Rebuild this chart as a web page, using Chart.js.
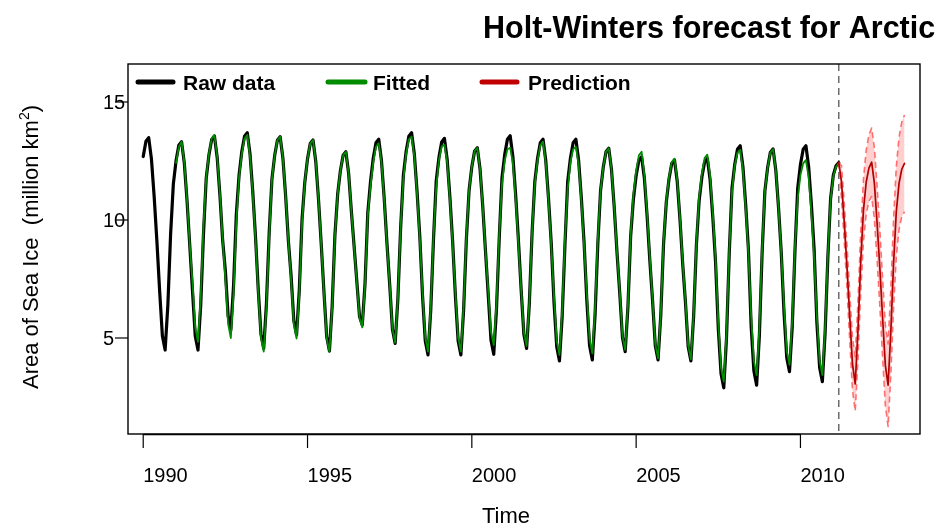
<!DOCTYPE html>
<html>
<head>
<meta charset="utf-8">
<title>Holt-Winters forecast for Arctic</title>
<script src="https://cdn.jsdelivr.net/npm/chart.js@4.4.1/dist/chart.umd.min.js"></script>
<style>
  html, body { margin: 0; padding: 0; background: #fff; }
  canvas { display: block; }
</style>
</head>
<body>
<canvas id="hwChart" width="941" height="527"></canvas>
<script>
// Monthly sea ice area (million km2), Jan 1990 - Mar 2011
const startYear = 1990;
const rawData = [
  12.69, 13.34, 13.49, 12.59, 10.99, 9.09, 6.99, 5.09, 4.49, 6.39, 9.39, 11.52,
  12.52, 13.17, 13.32, 12.42, 10.82, 8.92, 6.99, 5.09, 4.49, 6.39, 9.39, 11.76,
  12.76, 13.41, 13.56, 12.66, 11.06, 9.16, 7.84, 5.94, 5.34, 7.24, 10.24, 11.90,
  12.90, 13.55, 13.70, 12.80, 11.20, 9.30, 7.06, 5.16, 4.56, 6.46, 9.46, 11.73,
  12.73, 13.38, 13.53, 12.63, 11.03, 9.13, 7.63, 5.73, 5.13, 7.03, 10.03, 11.59,
  12.59, 13.24, 13.39, 12.49, 10.89, 8.99, 6.95, 5.05, 4.45, 6.35, 9.35, 11.09,
  12.09, 12.74, 12.89, 11.99, 10.39, 8.90, 7.40, 5.90, 5.55, 7.30, 10.30, 11.62,
  12.62, 13.27, 13.42, 12.52, 10.92, 9.02, 7.27, 5.37, 4.77, 6.67, 9.67, 11.90,
  12.90, 13.55, 13.70, 12.80, 11.20, 9.30, 6.78, 4.88, 4.28, 6.18, 9.18, 11.66,
  12.66, 13.31, 13.46, 12.56, 10.96, 9.06, 6.78, 4.88, 4.28, 6.18, 9.18, 11.26,
  12.26, 12.91, 13.06, 12.16, 10.56, 8.66, 6.81, 4.91, 4.31, 6.21, 9.21, 11.77,
  12.77, 13.42, 13.57, 12.67, 11.07, 9.17, 7.06, 5.16, 4.56, 6.46, 9.46, 11.62,
  12.62, 13.27, 13.42, 12.52, 10.92, 9.02, 6.53, 4.63, 4.03, 5.93, 8.93, 11.62,
  12.62, 13.27, 13.42, 12.52, 10.92, 9.02, 6.57, 4.67, 4.07, 5.97, 8.97, 11.24,
  12.24, 12.89, 13.04, 12.14, 10.54, 8.64, 6.92, 5.02, 4.42, 6.32, 9.32, 10.88,
  11.88, 12.53, 12.68, 11.78, 10.18, 8.28, 6.57, 4.67, 4.07, 5.97, 8.97, 10.74,
  11.74, 12.39, 12.54, 11.64, 10.04, 8.14, 6.53, 4.63, 4.03, 5.93, 8.93, 10.81,
  11.81, 12.46, 12.61, 11.71, 10.11, 8.21, 5.39, 3.49, 2.89, 5.00, 8.60, 11.35,
  12.35, 13.00, 13.15, 12.25, 10.65, 8.75, 5.50, 3.60, 3.00, 5.10, 8.60, 11.21,
  12.21, 12.86, 13.01, 12.11, 10.51, 8.61, 6.07, 4.17, 3.57, 5.47, 8.70, 11.35,
  12.35, 13.00, 13.15, 12.25, 10.65, 8.75, 5.65, 3.75, 3.15, 5.20, 8.40, 10.90,
  11.90, 12.30, 12.43
];

// Holt-Winters fitted values start after the first season (Jan 1991)
const fittedOffset = 12;
const fittedData = [
  12.42, 13.10, 13.32, 12.45, 10.85, 8.95, 7.34, 5.44, 4.84, 6.74, 9.74, 11.80,
  12.80, 13.45, 13.60, 12.70, 11.10, 9.20, 7.50, 5.60, 5.00, 6.90, 9.90, 11.80,
  12.80, 13.45, 13.60, 12.70, 11.10, 9.20, 6.92, 5.02, 4.42, 6.32, 9.32, 11.73,
  12.73, 13.38, 13.53, 12.63, 11.03, 9.13, 7.48, 5.58, 4.98, 6.88, 9.88, 11.59,
  12.59, 13.24, 13.39, 12.49, 10.89, 8.99, 6.90, 5.00, 4.40, 6.30, 9.30, 11.09,
  12.09, 12.74, 12.89, 11.99, 10.39, 8.85, 7.35, 5.85, 5.45, 7.25, 10.20, 11.45,
  12.45, 13.10, 13.25, 12.45, 10.85, 8.95, 7.30, 5.40, 4.80, 6.70, 9.70, 11.73,
  12.80, 13.42, 13.53, 12.70, 11.10, 9.20, 6.92, 5.02, 4.42, 6.32, 9.32, 11.38,
  12.55, 13.12, 13.18, 12.45, 10.85, 8.95, 6.92, 5.02, 4.42, 6.32, 9.32, 11.26,
  12.26, 12.91, 13.06, 12.16, 10.56, 8.66, 7.00, 5.25, 4.70, 6.45, 9.35, 11.50,
  12.50, 13.00, 13.06, 12.40, 10.90, 9.00, 7.10, 5.25, 4.67, 6.50, 9.50, 11.52,
  12.52, 13.17, 13.32, 12.42, 10.82, 8.92, 6.78, 4.88, 4.28, 6.18, 9.18, 11.30,
  12.45, 13.00, 13.10, 12.35, 10.80, 8.90, 6.85, 4.95, 4.35, 6.25, 9.20, 11.24,
  12.24, 12.89, 13.04, 12.14, 10.54, 8.64, 7.00, 5.10, 4.50, 6.40, 9.40, 11.09,
  12.09, 12.74, 12.89, 11.90, 10.30, 8.40, 6.64, 4.74, 4.14, 6.04, 9.04, 10.80,
  11.80, 12.45, 12.60, 11.70, 10.10, 8.20, 6.60, 4.70, 4.10, 6.00, 9.00, 10.97,
  11.97, 12.62, 12.77, 11.87, 10.27, 8.37, 5.65, 3.75, 3.15, 5.20, 8.70, 11.17,
  12.30, 12.85, 12.97, 12.10, 10.50, 8.60, 5.93, 4.03, 3.43, 5.40, 8.80, 11.20,
  12.20, 12.85, 13.00, 12.10, 10.50, 8.60, 6.36, 4.46, 3.86, 5.76, 8.90, 10.90,
  11.90, 12.40, 12.54, 11.80, 10.30, 8.40, 5.93, 4.03, 3.43, 5.40, 8.50, 10.85,
  11.85, 12.25, 12.43
];

// 24-month forecast, Apr 2011 - Mar 2013, with prediction interval
const predMean = [
  11.60, 9.90, 8.00, 5.90, 3.90, 3.05, 5.30, 8.20, 10.40, 11.60, 12.20, 12.45,
  11.55, 9.85, 7.95, 5.85, 3.85, 3.00, 5.25, 8.15, 10.35, 11.55, 12.15, 12.40
];
const predUpper = [
  12.30, 10.70, 8.90, 6.90, 5.00, 4.20, 6.50, 9.45, 11.70, 12.95, 13.60, 13.90,
  13.05, 11.40, 9.55, 7.50, 5.55, 4.75, 7.05, 10.00, 12.25, 13.50, 14.15, 14.45
];
const predLower = [
  10.90, 9.10, 7.10, 4.90, 2.80, 1.90, 4.10, 6.95, 9.10, 10.25, 10.80, 11.00,
  10.05, 8.30, 6.35, 4.20, 2.15, 1.25, 3.45, 6.30, 8.45, 9.60, 10.15, 10.35
];

const yearTicks = [1990, 1995, 2000, 2005, 2010];
const valueTicks = [5, 10, 15];
const legendLabels = ["Raw data", "Fitted", "Prediction"];
const legendColors = ["#000000", "#008b00", "#c00000"];

const FONT = '"Liberation Sans", Arial, sans-serif';

// turn a run of monthly values into {x: decimal year, y}
function toPoints(values, offset) {
  return values.map((v, i) => ({ x: startYear + (offset + i) / 12, y: v }));
}

const lastIndex = rawData.length - 1;
const lastValue = rawData[lastIndex];
const forecastStart = startYear + lastIndex / 12;

// forecast lines continue from the last observation
const meanPoints = toPoints([lastValue, ...predMean], lastIndex);
const upperPoints = toPoints([lastValue, ...predUpper], lastIndex);
const lowerPoints = toPoints([lastValue, ...predLower], lastIndex);

// axes, labels, legend and forecast marker drawn by hand
const framePlugin = {
  id: "frame",
  beforeDatasetsDraw(chart) {
    const { ctx, chartArea, scales } = chart;
    const x = scales.x.getPixelForValue(forecastStart);
    ctx.save();
    ctx.strokeStyle = "#555555";
    ctx.lineWidth = 1.3;
    ctx.setLineDash([7, 5]);
    ctx.beginPath();
    ctx.moveTo(x, chartArea.top);
    ctx.lineTo(x, chartArea.bottom);
    ctx.stroke();
    ctx.restore();
  },
  afterDraw(chart) {
    const { ctx, chartArea, scales } = chart;
    const { left, right, top, bottom } = chartArea;
    ctx.save();

    // plot box
    ctx.strokeStyle = "#000";
    ctx.lineWidth = 1.4;
    ctx.strokeRect(left, top, right - left, bottom - top);

    // x axis ticks and labels
    ctx.fillStyle = "#000";
    ctx.font = "20px " + FONT;
    ctx.textAlign = "left";
    ctx.textBaseline = "alphabetic";
    const firstX = scales.x.getPixelForValue(yearTicks[0]);
    const lastX = scales.x.getPixelForValue(yearTicks[yearTicks.length - 1]);
    ctx.lineWidth = 1.6;
    ctx.beginPath();
    ctx.moveTo(firstX, bottom + 0.5);
    ctx.lineTo(lastX, bottom + 0.5);
    ctx.stroke();
    ctx.lineWidth = 1.2;
    yearTicks.forEach((yr) => {
      const x = scales.x.getPixelForValue(yr);
      ctx.beginPath();
      ctx.moveTo(x, bottom);
      ctx.lineTo(x, bottom + 14);
      ctx.stroke();
      ctx.fillText(String(yr), x, 482);
    });

    // y axis ticks and labels
    valueTicks.forEach((v) => {
      const y = scales.y.getPixelForValue(v);
      ctx.beginPath();
      ctx.moveTo(left - 13, y);
      ctx.lineTo(left, y);
      ctx.stroke();
      ctx.fillText(String(v), 103, y + 7);
    });

    // axis titles
    ctx.font = "22px " + FONT;
    ctx.textAlign = "center";
    ctx.fillText("Time", 506, 523);

    ctx.save();
    ctx.translate(38, 247);
    ctx.rotate(-Math.PI / 2);
    ctx.textAlign = "left";
    const mainText = "Area of Sea Ice  (million km";
    ctx.font = "22px " + FONT;
    const w1 = ctx.measureText(mainText).width;
    const w3 = ctx.measureText(")").width;
    ctx.font = "14px " + FONT;
    const w2 = ctx.measureText("2").width;
    let x0 = -(w1 + w2 + w3) / 2;
    ctx.font = "22px " + FONT;
    ctx.fillText(mainText, x0, 0);
    ctx.font = "14px " + FONT;
    ctx.fillText("2", x0 + w1, -9);
    ctx.font = "22px " + FONT;
    ctx.fillText(")", x0 + w1 + w2, 0);
    ctx.restore();

    // title
    ctx.font = "bold 30.5px " + FONT;
    ctx.textAlign = "left";
    ctx.fillText("Holt-Winters forecast for Arctic", 483, 38);

    // legend
    const legendLines = [[138, 173, 183], [328, 365, 373], [482, 517, 528]];
    ctx.font = "bold 21px " + FONT;
    ctx.lineCap = "round";
    legendLabels.forEach((label, i) => {
      const [x1, x2, tx] = legendLines[i];
      ctx.strokeStyle = legendColors[i];
      ctx.lineWidth = 5;
      ctx.beginPath();
      ctx.moveTo(x1, 82);
      ctx.lineTo(x2, 82);
      ctx.stroke();
      ctx.fillStyle = "#000";
      ctx.fillText(label, tx, 89.5);
    });

    ctx.restore();
  }
};

function createChart() {
  const ctx = document.getElementById("hwChart").getContext("2d");
  const lineDefaults = {
    pointRadius: 0,
    borderJoinStyle: "round",
    borderCapStyle: "round",
  };
  new Chart(ctx, {
    type: "line",
    data: {
      datasets: [
        {
          ...lineDefaults,
          label: "Raw data",
          data: toPoints(rawData, 0),
          borderColor: "#000000",
          borderWidth: 3.2,
          order: 5,
        },
        {
          ...lineDefaults,
          label: "Fitted",
          data: toPoints(fittedData, fittedOffset),
          borderColor: "#008b00",
          borderWidth: 1.8,
          order: 4,
        },
        {
          ...lineDefaults,
          label: "Upper",
          data: upperPoints,
          borderColor: "#ff6f6f",
          borderWidth: 1.6,
          borderDash: [6, 4],
          borderCapStyle: "butt",
          backgroundColor: "rgba(255, 160, 160, 0.5)",
          fill: "+1",
          order: 3,
        },
        {
          ...lineDefaults,
          label: "Lower",
          data: lowerPoints,
          borderColor: "#ff6f6f",
          borderWidth: 1.6,
          borderDash: [6, 4],
          borderCapStyle: "butt",
          order: 2,
        },
        {
          ...lineDefaults,
          label: "Prediction",
          data: meanPoints,
          borderColor: "#b00000",
          borderWidth: 1.7,
          order: 1,
        },
      ],
    },
    options: {
      responsive: false,
      animation: false,
      devicePixelRatio: 1,
      layout: { padding: { left: 128, top: 64, right: 21, bottom: 93 } },
      scales: {
        x: { type: "linear", min: 1989.537, max: 2013.638, display: false },
        y: { min: 0.932, max: 16.61, display: false },
      },
      plugins: {
        legend: { display: false },
        tooltip: { enabled: false },
      },
    },
    plugins: [framePlugin],
  });
}

document.addEventListener("DOMContentLoaded", createChart);
</script>
</body>
</html>
